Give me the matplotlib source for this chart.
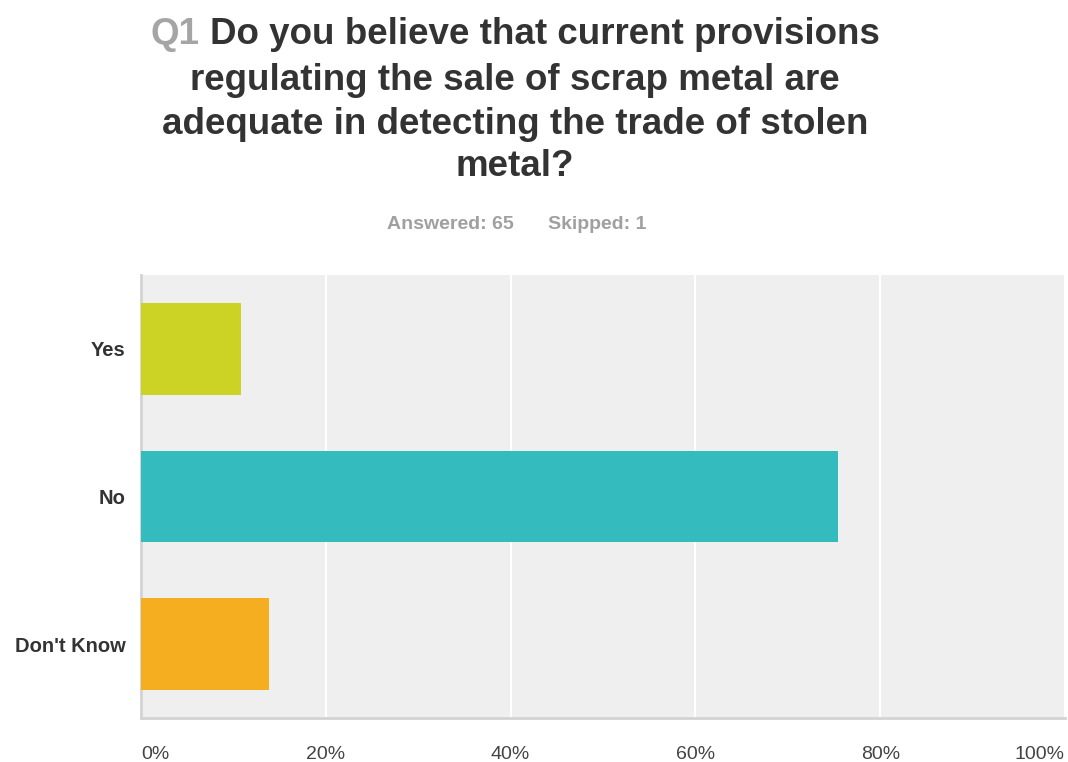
import matplotlib
matplotlib.use("Agg")
import matplotlib.pyplot as plt
from matplotlib.ticker import FixedLocator

# survey responses for Q1 (counts out of 65 answered)
categories = ["Yes", "No", "Don't Know"]
counts = [7, 49, 9]
answered = 65
skipped = 1
bar_colors = ["#CDD324", "#33BBBD", "#F5AE1F"]
tick_values = [0, 20, 40, 60, 80, 100]
tick_labels = ["0%", "20%", "40%", "60%", "80%", "100%"]

percents = [100.0 * c / answered for c in counts]

plt.rcParams["font.family"] = ["Liberation Sans", "DejaVu Sans"]

W, H = 1068, 762
fig = plt.figure(figsize=(W / 100, H / 100), dpi=100)
fig.patch.set_facecolor("white")

# plot area in pixel coords: x 141..1065, y 275..718
ax = fig.add_axes([141 / W, 1 - 718 / H, (1065 - 141) / W, (718 - 275) / H])
ax.set_facecolor("#EFEFEF")
ypos = list(range(len(categories)))
ax.barh(ypos, percents, height=0.62, color=bar_colors, zorder=3)
ax.set_xlim(0, 100)
ax.set_ylim(len(categories) - 0.5, -0.5)

ax.xaxis.set_major_locator(FixedLocator(tick_values))
ax.set_xticklabels(tick_labels)
ax.grid(axis="x", color="white", linewidth=1.5, zorder=1)
ax.set_yticks(ypos)
ax.set_yticklabels(categories, fontweight="bold", fontsize=14.5, color="#333333")
ax.tick_params(axis="y", length=0, pad=11)
ax.tick_params(axis="x", length=0, pad=20, labelsize=14, labelcolor="#444444")
labels = ax.get_xticklabels()
labels[0].set_horizontalalignment("left")
labels[-1].set_horizontalalignment("right")

for side in ["top", "right"]:
    ax.spines[side].set_visible(False)
for side in ["left", "bottom"]:
    ax.spines[side].set_color("#D3D3D3")
    ax.spines[side].set_linewidth(2)

# title, first word in grey
title_lines = [
    "Q1 Do you believe that current provisions",
    "regulating the sale of scrap metal are",
    "adequate in detecting the trade of stolen",
    "metal?",
]
title_y = [34, 80, 124, 167]
cx = 515 / W
tstyle = dict(fontsize=26.5, fontweight="bold", va="center")
renderer = fig.canvas.get_renderer()

# measure the whole first line, then lay the two coloured pieces over it
probe = fig.text(cx, 1 - title_y[0] / H, title_lines[0], ha="center", **tstyle)
bb = probe.get_window_extent(renderer)
probe.remove()
fig.text(bb.x0 / W, 1 - title_y[0] / H, "Q1", ha="left", color="#A5A5A5", **tstyle)
fig.text(bb.x1 / W, 1 - title_y[0] / H, title_lines[0][3:], ha="right",
         color="#333333", **tstyle)

for line, yy in zip(title_lines[1:], title_y[1:]):
    fig.text(cx, 1 - yy / H, line, ha="center", color="#333333", **tstyle)

fig.text(450 / W, 1 - 225 / H, f"Answered: {answered}", ha="center", va="center",
         fontsize=14, fontweight="bold", color="#A0A0A0")
fig.text(597 / W, 1 - 225 / H, f"Skipped: {skipped}", ha="center", va="center",
         fontsize=14, fontweight="bold", color="#A0A0A0")

fig.savefig("out.png", dpi=100)
